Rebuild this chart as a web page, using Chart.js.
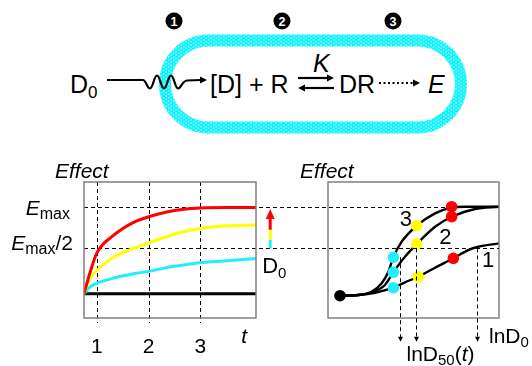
<!DOCTYPE html>
<html>
<head>
<meta charset="utf-8">
<script src="https://cdn.jsdelivr.net/npm/chart.js@4.4.1/dist/chart.umd.min.js"></script>
<style>
  html, body { margin: 0; padding: 0; background: #fff; }
  #wrap { position: relative; width: 532px; height: 366px; overflow: hidden; }
  #wrap svg, #wrap canvas { position: absolute; left: 0; top: 0; }
  svg text { font-family: "Liberation Sans", Arial, sans-serif; }
</style>
</head>
<body>
<div id="wrap">
  <!-- schematic: absorption -> binding -> effect -->
  <svg width="532" height="140" viewBox="0 0 532 140">
    <defs>
      <pattern id="dots" width="5" height="3.4" patternUnits="userSpaceOnUse">
        <rect width="5" height="3.4" fill="#00f4ff"/>
        <ellipse cx="1.2" cy="0.8" rx="1" ry="0.5" fill="#fff"/>
        <ellipse cx="3.7" cy="2.5" rx="1" ry="0.5" fill="#fff"/>
      </pattern>
    </defs>
    <rect x="165" y="40.5" width="296" height="87" rx="43.5" fill="none" stroke="url(#dots)" stroke-width="12"/>

    <circle cx="174" cy="21" r="8.5"/><text x="174" y="25.5" fill="#fff" font-size="12.5" font-weight="bold" text-anchor="middle">1</text>
    <circle cx="282" cy="21" r="8.5"/><text x="282" y="25.5" fill="#fff" font-size="12.5" font-weight="bold" text-anchor="middle">2</text>
    <circle cx="393" cy="21" r="8.5"/><text x="393" y="25.5" fill="#fff" font-size="12.5" font-weight="bold" text-anchor="middle">3</text>

    <text x="70" y="93" font-size="25">D<tspan font-size="17" dy="5">0</tspan></text>
    <path d="M107 80 H143 C146 80 147 88.5 150 88.5 C153 88.5 154 75.5 157 75.5 C160 75.5 161 88.5 164 88.5 C167 88.5 168 75.5 171 75.5 C174 75.5 175 88.5 178 88.5 C181 88.5 182 81 187 80.5 L201 80"
          stroke="#000" stroke-width="2.2" fill="none"/>
    <polygon points="207,80 200,76.5 200,83.5"/>

    <text x="210" y="93" font-size="25">[D] + R</text>
    <text x="313" y="72" font-size="25" font-style="italic">K</text>
    <line x1="298" y1="78" x2="328" y2="78" stroke="#000" stroke-width="2.2"/>
    <polygon points="334,78 327,74.5 327,81.5"/>
    <line x1="304" y1="88" x2="334" y2="88" stroke="#000" stroke-width="2.2"/>
    <polygon points="298,88 305,84.5 305,91.5"/>
    <text x="339" y="93" font-size="25">DR</text>
    <line x1="379" y1="83" x2="414" y2="83" stroke="#000" stroke-width="2" stroke-dasharray="2 2.5"/>
    <polygon points="420,83 413,79.5 413,86.5"/>
    <text x="428" y="93" font-size="25" font-style="italic">E</text>
  </svg>
  <canvas id="doseChart" width="532" height="366"></canvas>
  <canvas id="timeChart" width="532" height="366"></canvas>
</div>

<script>
// ---- left panel: effect vs time, three doses ----
const TIME = [0.75, 0.87, 1.0, 1.32, 1.71, 2.03, 2.35, 2.68, 3.0, 3.52, 4.08];
const EFFECT_HIGH = [0, 0.25, 0.47, 0.67, 0.82, 0.89, 0.94, 0.97, 0.985, 0.99, 0.99];
const EFFECT_MID = [0, 0.18, 0.27, 0.42, 0.52, 0.59, 0.655, 0.715, 0.75, 0.78, 0.79];
const EFFECT_LOW = [0, 0.08, 0.12, 0.18, 0.23, 0.26, 0.30, 0.33, 0.355, 0.38, 0.405];
const EFFECT_NONE = [0, 0, 0, 0, 0, 0, 0, 0, 0, 0, 0];
const TIME_TICKS = [1, 2, 3];

// reference levels shared by both panels
const E_MAX = 1.0;
const E_HALF = 0.52;

// ---- right panel: effect vs ln dose at three times ----
const LNDOSE_1 = [0.70, 1.77, 2.75, 3.82, 4.50, 5.28, 6.26, 7.33, 8.20, 8.79, 10];
const CURVE_1 = [-0.023, -0.015, 0.011, 0.069, 0.131, 0.195, 0.299, 0.407, 0.502, 0.54, 0.579];
const LNDOSE_2 = [0.70, 1.77, 2.55, 3.33, 3.82, 4.50, 5.19, 6.26, 7.23, 8.60, 10];
const CURVE_2 = [-0.023, -0.015, 0.016, 0.10, 0.246, 0.425, 0.571, 0.77, 0.885, 0.974, 1.0];
const LNDOSE_3 = [0.70, 1.77, 2.55, 3.14, 3.53, 3.82, 4.31, 5.19, 6.26, 7.23, 8.0, 10];
const CURVE_3 = [-0.023, -0.015, 0.023, 0.12, 0.253, 0.418, 0.598, 0.782, 0.924, 0.99, 1.0, 1.0];

// marked doses (low, mid, high) on each curve
const DOT_LNDOSE = [3.82, 3.82, 3.82, 5.28, 5.19, 5.19, 7.33, 7.23, 7.23];
const DOT_EFFECT = [0.069, 0.246, 0.418, 0.195, 0.571, 0.782, 0.407, 0.885, 1.0];
const START_LNDOSE = [0.70];
const START_EFFECT = [-0.023];

// ln D50(t) readings, and where each drop line starts
const D50_LNDOSE = [4.21, 5.13, 8.71];
const D50_FROM = [0.42, 0.52, 0.52];
const EMAX_LINE_END = 6.96; // ln dose where the Emax guide stops

const COLORS = {
  red: "#ff0000",
  yellow: "#ffff00",
  cyan: "#22eeff",
  frame: "#808080",
};
const FONT = '"Liberation Sans", Arial, sans-serif';

const pts = (xs, ys) => xs.map((x, i) => ({ x, y: ys[i] }));

function dashed(ctx, x0, y0, x1, y1) {
  ctx.save();
  ctx.setLineDash([4, 3]);
  ctx.lineWidth = 1;
  ctx.strokeStyle = "#000";
  ctx.beginPath();
  ctx.moveTo(x0, y0);
  ctx.lineTo(x1, y1);
  ctx.stroke();
  ctx.restore();
}

/** Draw a run of text pieces ({t, size, it, dy}) on one baseline. */
function runs(ctx, x, y, parts, align) {
  let total = 0;
  parts.forEach((p) => {
    ctx.font = `${p.it ? "italic " : ""}${p.size || 21}px ${FONT}`;
    p.w = ctx.measureText(p.t).width;
    total += p.w;
  });
  let cx = align === "right" ? x - total : align === "center" ? x - total / 2 : x;
  ctx.fillStyle = "#000";
  ctx.textAlign = "left";
  ctx.textBaseline = "alphabetic";
  parts.forEach((p) => {
    ctx.font = `${p.it ? "italic " : ""}${p.size || 21}px ${FONT}`;
    ctx.fillText(p.t, cx, y + (p.dy || 0));
    cx += p.w;
  });
}

function frame(chart) {
  const { ctx, chartArea: a } = chart;
  ctx.save();
  ctx.strokeStyle = COLORS.frame;
  ctx.lineWidth = 1.5;
  ctx.strokeRect(a.left, a.top, a.right - a.left, a.bottom - a.top);
  ctx.restore();
}

const BASE = {
  responsive: false,
  animation: false,
  events: [],
  plugins: { legend: { display: false }, tooltip: { enabled: false } },
  elements: { point: { radius: 0 } },
};

const Y_RANGE = { display: false, min: -0.279, max: 1.284 };

// right panel first: the left panel's guides reach into it
const doseDecor = {
  id: "doseDecor",
  afterDraw(chart) {
    const { ctx, chartArea: a } = chart;
    const x = chart.scales.x, y = chart.scales.y;
    frame(chart);

    // drop lines to ln D50(t)
    const tipY = y.getPixelForValue(-0.552);
    D50_LNDOSE.forEach((v, i) => {
      const px = Math.round(x.getPixelForValue(v)) + 0.5;
      dashed(ctx, px, y.getPixelForValue(D50_FROM[i]), px, tipY - 4);
      ctx.beginPath();
      ctx.moveTo(px, tipY);
      ctx.lineTo(px - 2.5, tipY - 5);
      ctx.lineTo(px + 2.5, tipY - 5);
      ctx.closePath();
      ctx.fillStyle = "#000";
      ctx.fill();
    });

    runs(ctx, a.left - 28, a.top - 4, [{ t: "Effect", it: true }]);
    runs(ctx, x.getPixelForValue(4.2), y.getPixelForValue(0.778), [{ t: "3", size: 22 }]);
    runs(ctx, x.getPixelForValue(6.5), y.getPixelForValue(0.571), [{ t: "2", size: 22 }]);
    runs(ctx, x.getPixelForValue(9.0), y.getPixelForValue(0.306), [{ t: "1", size: 22 }]);
    runs(ctx, a.right - 10, a.bottom + 25, [{ t: "lnD" }, { t: "0", size: 15, dy: 4 }]);
    runs(ctx, x.getPixelForValue(4.59), a.bottom + 43, [
      { t: "lnD" }, { t: "50", size: 15, dy: 4 }, { t: "(" }, { t: "t", it: true }, { t: ")" },
    ]);
  },
};

const doseChart = new Chart(document.getElementById("doseChart"), {
  type: "line",
  data: {
    datasets: [
      {
        label: "Start",
        data: pts(START_LNDOSE, START_EFFECT),
        showLine: false,
        pointRadius: 5.8,
        pointBorderWidth: 0,
        pointBackgroundColor: "#000",
      },
      {
        label: "Marked doses",
        data: pts(DOT_LNDOSE, DOT_EFFECT),
        showLine: false,
        pointRadius: 5.8,
        pointBorderWidth: 0,
        pointBackgroundColor: [
          COLORS.cyan, COLORS.cyan, COLORS.cyan,
          COLORS.yellow, COLORS.yellow, COLORS.yellow,
          COLORS.red, COLORS.red, COLORS.red,
        ],
      },
      { label: "t = 3", data: pts(LNDOSE_3, CURVE_3), borderColor: "#000", borderWidth: 2.4, cubicInterpolationMode: "monotone" },
      { label: "t = 2", data: pts(LNDOSE_2, CURVE_2), borderColor: "#000", borderWidth: 2.4, cubicInterpolationMode: "monotone" },
      { label: "t = 1", data: pts(LNDOSE_1, CURVE_1), borderColor: "#000", borderWidth: 2.4, cubicInterpolationMode: "monotone" },
    ],
  },
  options: {
    ...BASE,
    layout: { padding: { left: 328, top: 182, right: 33, bottom: 48 } },
    scales: {
      x: { type: "linear", display: false, min: 0, max: 10 },
      y: Y_RANGE,
    },
  },
  plugins: [doseDecor],
});

const timeDecor = {
  id: "timeDecor",
  beforeDatasetsDraw(chart) {
    const { ctx, chartArea: a } = chart;
    const x = chart.scales.x, y = chart.scales.y;
    const bottom = y.getPixelForValue(-0.337);
    TIME_TICKS.forEach((t) => {
      const px = Math.round(x.getPixelForValue(t)) + 0.5;
      dashed(ctx, px, a.top, px, bottom);
    });
    const dx = doseChart.scales.x;
    const yMax = Math.round(y.getPixelForValue(E_MAX)) + 0.5;
    const yHalf = Math.round(y.getPixelForValue(E_HALF)) + 0.5;
    dashed(ctx, a.left, yMax, dx.getPixelForValue(EMAX_LINE_END), yMax);
    dashed(ctx, a.left, yHalf, dx.getPixelForValue(10), yHalf);
  },
  afterDraw(chart) {
    const { ctx, chartArea: a } = chart;
    const x = chart.scales.x, y = chart.scales.y;
    frame(chart);

    // rising-dose arrow, coloured by dose
    const ax = x.getPixelForValue(4.355);
    const seg = [
      [E_HALF, 0.62, COLORS.cyan],
      [0.62, 0.735, COLORS.yellow],
      [0.735, 0.875, COLORS.red],
    ];
    ctx.save();
    ctx.lineWidth = 3;
    seg.forEach(([a0, a1, c]) => {
      ctx.strokeStyle = c;
      ctx.beginPath();
      ctx.moveTo(ax, y.getPixelForValue(a0));
      ctx.lineTo(ax, y.getPixelForValue(a1));
      ctx.stroke();
    });
    const tip = y.getPixelForValue(0.975);
    ctx.fillStyle = COLORS.red;
    ctx.beginPath();
    ctx.moveTo(ax, tip);
    ctx.lineTo(ax - 4.5, tip + 10);
    ctx.lineTo(ax + 4.5, tip + 10);
    ctx.closePath();
    ctx.fill();
    ctx.restore();

    runs(ctx, a.left - 29, a.top - 4, [{ t: "Effect", it: true }]);
    runs(ctx, a.left - 14, y.getPixelForValue(E_MAX) + 8, [
      { t: "E", it: true }, { t: "max", size: 16, dy: 4 },
    ], "right");
    runs(ctx, a.left - 11, y.getPixelForValue(E_HALF) + 2, [
      { t: "E", it: true }, { t: "max", size: 16, dy: 4 }, { t: "/2" },
    ], "right");
    runs(ctx, ax - 8, y.getPixelForValue(E_HALF) + 25, [{ t: "D", size: 22 }, { t: "0", size: 15, dy: 5 }]);
    TIME_TICKS.forEach((t) => {
      runs(ctx, x.getPixelForValue(t), a.bottom + 35, [{ t: String(t), size: 21 }], "center");
    });
    runs(ctx, x.getPixelForValue(3.85), a.bottom + 25, [{ t: "t", it: true }], "center");
  },
};

new Chart(document.getElementById("timeChart"), {
  type: "line",
  data: {
    datasets: [
      { label: "High dose", data: pts(TIME, EFFECT_HIGH), borderColor: COLORS.red, borderWidth: 3, cubicInterpolationMode: "monotone" },
      { label: "Mid dose", data: pts(TIME, EFFECT_MID), borderColor: COLORS.yellow, borderWidth: 3, cubicInterpolationMode: "monotone" },
      { label: "Low dose", data: pts(TIME, EFFECT_LOW), borderColor: COLORS.cyan, borderWidth: 3, cubicInterpolationMode: "monotone" },
      { label: "No drug", data: pts(TIME, EFFECT_NONE), borderColor: "#000", borderWidth: 3 },
    ],
  },
  options: {
    ...BASE,
    layout: { padding: { left: 84, top: 182, right: 276, bottom: 48 } },
    scales: {
      x: { type: "linear", display: false, min: 0.75, max: 4.08 },
      y: Y_RANGE,
    },
  },
  plugins: [timeDecor],
});
</script>
</body>
</html>
